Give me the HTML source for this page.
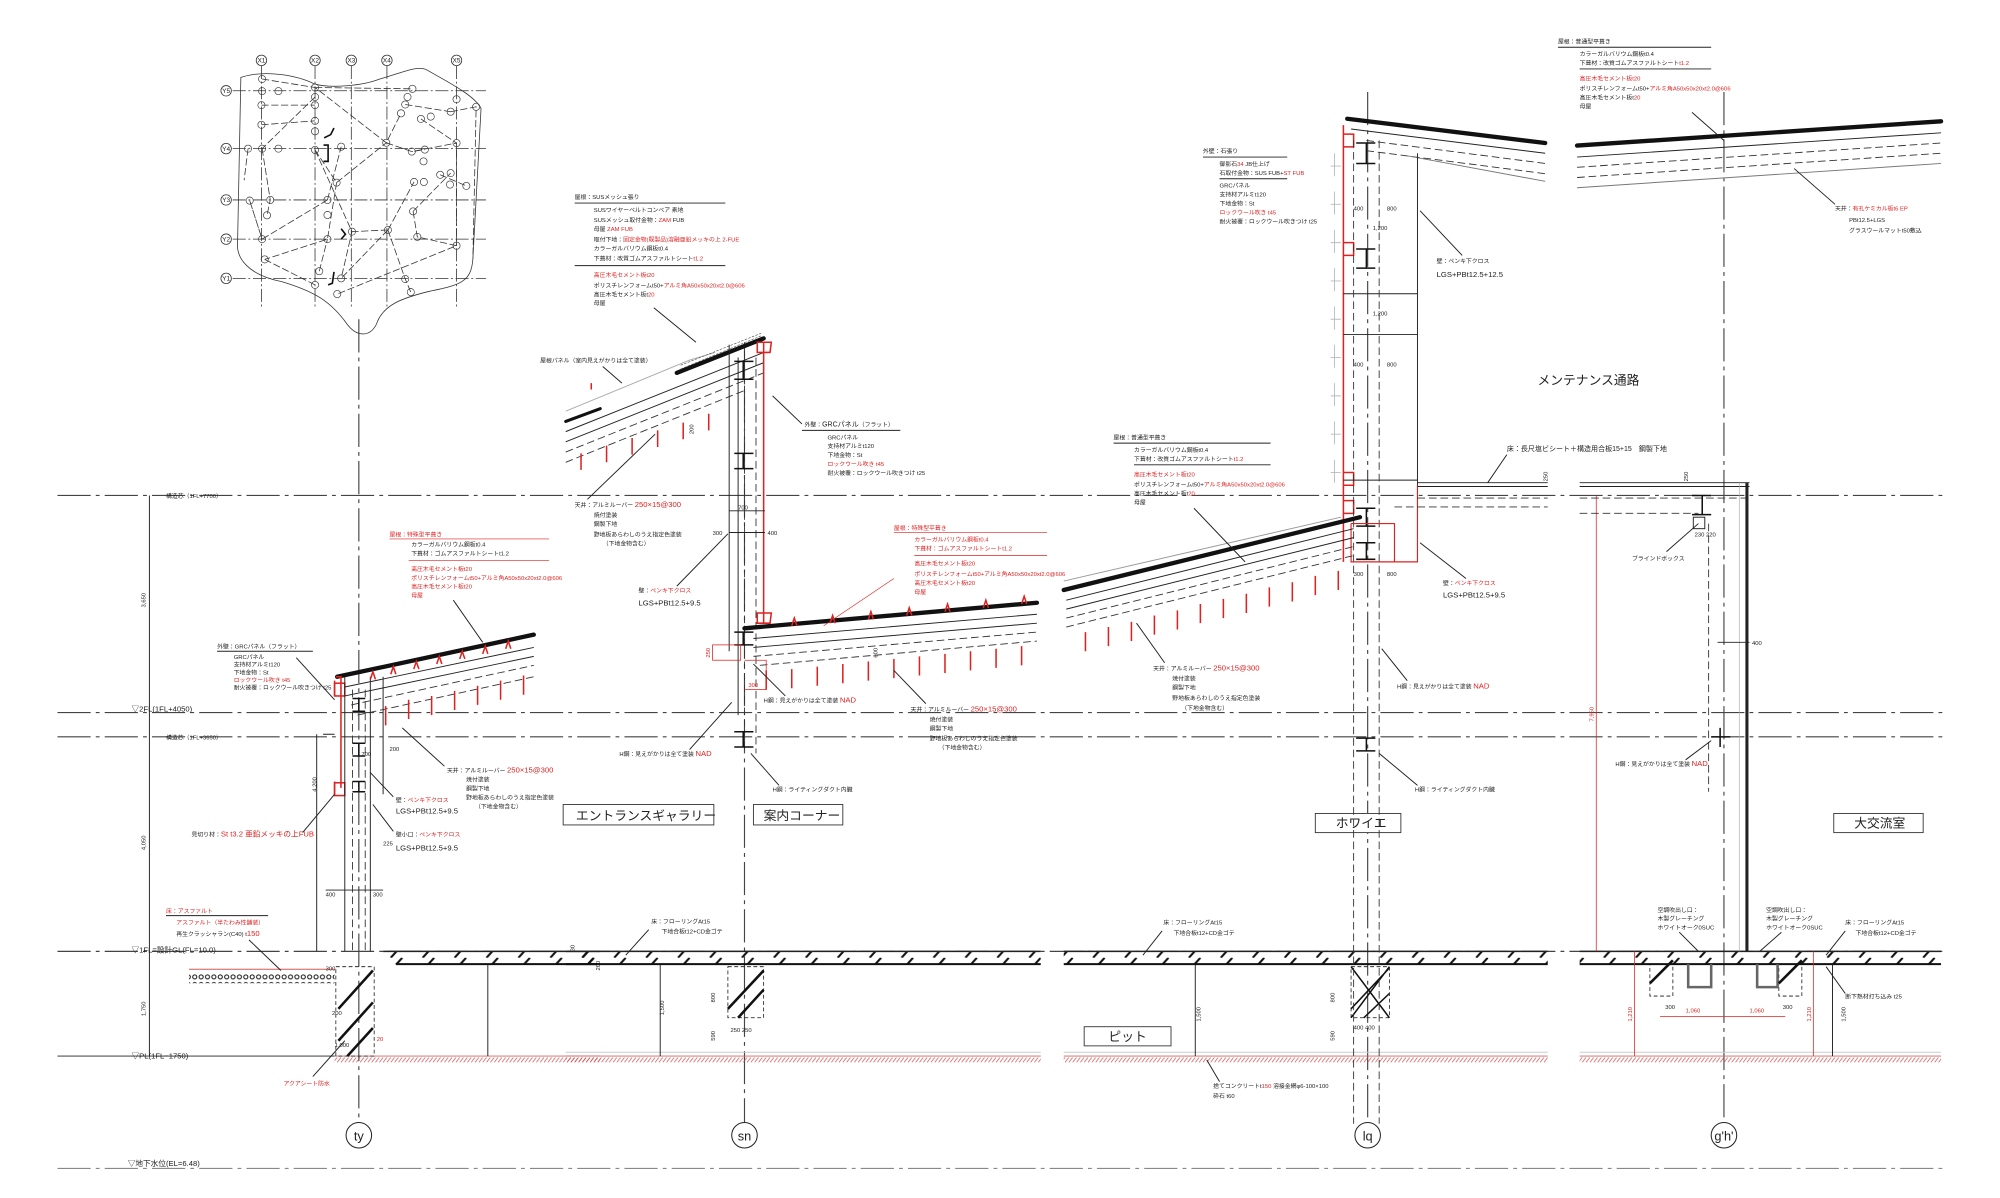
<!DOCTYPE html>
<html><head><meta charset="utf-8">
<style>
html,body{margin:0;padding:0;background:#fff;width:2000px;height:1198px;overflow:hidden}
svg{display:block}
text{font-family:"Liberation Sans","Noto Sans CJK JP",sans-serif;fill:#222}
.r{fill:#d22}
.ax{stroke:#444;stroke-width:.9;fill:none;stroke-dasharray:26 4 3 4}
.ln{stroke:#222;stroke-width:.75;fill:none}
.th{stroke:#111;stroke-width:3.4;fill:none;stroke-linecap:round}
.rd{stroke:#d22;stroke-width:1.2;fill:none}
.dsh{stroke:#333;stroke-width:.7;fill:none;stroke-dasharray:6 3}
.t{font-size:4.6px}
.m{font-size:6px}
</style></head><body>
<svg width="2000" height="1198" viewBox="0 0 2000 1198" xmlns="http://www.w3.org/2000/svg">
<defs>
<pattern id="hat" width="25" height="10" patternUnits="userSpaceOnUse">
<line x1="6" y1="10" x2="15" y2="0" stroke="#111" stroke-width="1.6"/>
</pattern>
<pattern id="rh" width="3" height="4" patternUnits="userSpaceOnUse">
<line x1="0" y1="4" x2="3" y2="0" stroke="#c44" stroke-width=".5"/>
</pattern>
<pattern id="grv" width="5" height="6" patternUnits="userSpaceOnUse">
<circle cx="2.5" cy="3" r="1.6" fill="none" stroke="#111" stroke-width=".8"/>
</pattern>
</defs>

<!-- Key plan (original coords) -->
<g transform="translate(200,30) scale(0.3268)" stroke="#333" fill="none" stroke-width="2.4">
<g stroke-dasharray="40 8 6 8">
<line x1="188" y1="110" x2="188" y2="850"/><line x1="352" y1="110" x2="352" y2="850"/><line x1="463" y1="110" x2="463" y2="850"/><line x1="572" y1="110" x2="572" y2="850"/><line x1="785" y1="110" x2="785" y2="850"/>
<line x1="100" y1="186" x2="875" y2="186"/><line x1="100" y1="363" x2="875" y2="363"/><line x1="100" y1="520" x2="875" y2="520"/><line x1="100" y1="640" x2="875" y2="640"/><line x1="100" y1="760" x2="875" y2="760"/>
</g>
<circle cx="188" cy="93" r="16"/><circle cx="352" cy="93" r="16"/><circle cx="463" cy="93" r="16"/><circle cx="572" cy="93" r="16"/><circle cx="785" cy="93" r="16"/>
<circle cx="80" cy="186" r="16"/><circle cx="80" cy="363" r="16"/><circle cx="80" cy="520" r="16"/><circle cx="80" cy="640" r="16"/><circle cx="80" cy="760" r="16"/>
<g stroke="none" fill="#222" font-size="20" text-anchor="middle" font-family="Liberation Sans,sans-serif">
<text x="188" y="100">X1</text><text x="352" y="100">X2</text><text x="463" y="100">X3</text><text x="572" y="100">X4</text><text x="785" y="100">X5</text>
<text x="80" y="193">Y5</text><text x="80" y="370">Y4</text><text x="80" y="527">Y3</text><text x="80" y="647">Y2</text><text x="80" y="767">Y1</text></g>
<path d="M125,145 C200,120 300,140 350,165 C400,180 500,170 550,150 C620,130 660,110 690,120 C760,160 840,200 860,240 L835,700 C830,770 800,780 700,800 C620,820 560,840 540,900 C520,940 480,940 450,900 C400,830 350,800 250,770 C150,750 110,700 115,650 L125,145 Z"/>
<g stroke-dasharray="22 8">
<path d="M190,150 L352,176 L570,345 L615,255 M352,176 L650,180 M352,205 L190,363 M188,230 L352,230 M188,290 L352,278 M147,363 L135,460 M190,363 L215,520 L205,567 M352,367 L418,467 L570,345 M352,367 L465,617 L432,760 M390,520 L190,640 L152,522 M390,520 L432,357 M418,467 L390,640 L198,702 M575,612 L465,617 M575,612 L655,465 M575,612 L628,762 L645,802 M575,612 L432,760 M652,555 L767,438 M652,555 L665,633 L785,660 L420,808 M785,660 L785,346 L648,372 M767,250 L845,235 L835,700 M676,272 L785,346 M198,702 L352,780 M365,738 L390,640 M628,228 L767,250 M570,345 L648,372 L688,366 M735,443 L815,477 M152,522 L190,640"/>
</g>
<g stroke-width="2">
<circle cx="190" cy="150" r="11"/><circle cx="190" cy="187" r="11"/><circle cx="240" cy="187" r="11"/><circle cx="352" cy="176" r="11"/><circle cx="352" cy="205" r="11"/><circle cx="188" cy="230" r="11"/><circle cx="352" cy="230" r="11"/><circle cx="188" cy="290" r="11"/><circle cx="352" cy="278" r="11"/><circle cx="352" cy="310" r="11"/><circle cx="147" cy="363" r="11"/><circle cx="190" cy="363" r="11"/><circle cx="240" cy="363" r="11"/><circle cx="352" cy="367" r="11"/><circle cx="432" cy="357" r="11"/><circle cx="570" cy="345" r="11"/><circle cx="648" cy="372" r="11"/><circle cx="688" cy="366" r="11"/><circle cx="684" cy="402" r="11"/><circle cx="785" cy="346" r="11"/><circle cx="650" cy="180" r="11"/><circle cx="635" cy="205" r="11"/><circle cx="628" cy="228" r="11"/><circle cx="615" cy="255" r="11"/><circle cx="676" cy="272" r="11"/><circle cx="706" cy="265" r="11"/><circle cx="767" cy="250" r="11"/><circle cx="785" cy="212" r="11"/><circle cx="845" cy="235" r="11"/><circle cx="418" cy="467" r="11"/><circle cx="390" cy="520" r="11"/><circle cx="215" cy="520" r="11"/><circle cx="152" cy="522" r="11"/><circle cx="205" cy="567" r="11"/><circle cx="390" cy="566" r="11"/><circle cx="655" cy="465" r="11"/><circle cx="685" cy="465" r="11"/><circle cx="735" cy="443" r="11"/><circle cx="767" cy="438" r="11"/><circle cx="765" cy="473" r="11"/><circle cx="815" cy="477" r="11"/><circle cx="652" cy="555" r="11"/><circle cx="190" cy="640" r="11"/><circle cx="390" cy="640" r="11"/><circle cx="465" cy="617" r="11"/><circle cx="575" cy="612" r="11"/><circle cx="665" cy="633" r="11"/><circle cx="785" cy="660" r="11"/><circle cx="198" cy="702" r="11"/><circle cx="365" cy="738" r="11"/><circle cx="352" cy="780" r="11"/><circle cx="432" cy="760" r="11"/><circle cx="420" cy="808" r="11"/><circle cx="628" cy="762" r="11"/><circle cx="645" cy="802" r="11"/>
</g>
<path d="M380,330 L400,320 L410,300 M378,352 L392,352 L392,402 L378,402 M432,608 L445,625 L432,640 M392,780 L405,775 L410,740" stroke="#111" stroke-width="5"/>
</g>

<!-- Main section -->
<g transform="scale(1.277)">
<line class="ax" x1="45" y1="388" x2="1522" y2="388"/>
<line class="ax" x1="45" y1="558" x2="1522" y2="558"/>
<line class="ax" x1="45" y1="577" x2="1522" y2="577"/>
<line class="ax" x1="45" y1="745" x2="1522" y2="745"/>
<line class="ln" x1="45" y1="827" x2="262" y2="827"/>
<line class="ax" x1="45" y1="915" x2="1522" y2="915" style="stroke:#888"/>
<text class="t" x="130" y="390">構造芯（1FL+7700）</text>
<text class="m" x="103" y="557">▽2FL(1FL+4050)</text>
<text class="t" x="130" y="579">構造芯（1FL+3650）</text>
<text class="m" x="103" y="746">▽1FL=設計GL(FL=10.0)</text>
<text class="m" x="103" y="829">▽PL(1FL−1750)</text>
<text class="m" x="100" y="913">▽地下水位(EL=6.48)</text>
<line class="ln" x1="117" y1="388" x2="117" y2="827"/>
<g class="t"><text transform="translate(114,470) rotate(-90)" text-anchor="middle">3,650</text><text transform="translate(114,660) rotate(-90)" text-anchor="middle">4,050</text><text transform="translate(114,790) rotate(-90)" text-anchor="middle">1,750</text></g>

<line class="ax" x1="281" y1="250" x2="281" y2="879"/>
<line class="ax" x1="583" y1="268" x2="583" y2="879"/>
<line class="ax" x1="1071" y1="72" x2="1071" y2="879"/>
<line class="ax" x1="1350" y1="72" x2="1350" y2="879"/>
<g fill="#fff" stroke="#222" stroke-width=".8"><circle cx="281" cy="889" r="10"/><circle cx="583" cy="889" r="10"/><circle cx="1071" cy="889" r="10"/><circle cx="1350" cy="889" r="10"/></g>
<g font-size="10" text-anchor="middle"><text x="281" y="893">ty</text><text x="583" y="893">sn</text><text x="1071" y="893">lq</text><text x="1350" y="893">g'h'</text></g>

<g>
<rect x="300" y="745" width="170" height="10" fill="url(#hat)"/><line class="ln" x1="300" y1="745" x2="470" y2="745" style="stroke-width:1.2"/><line x1="310" y1="755" x2="470" y2="755" stroke="#111" stroke-width="1.6"/>
<rect x="443" y="745" width="372" height="10" fill="url(#hat)"/><line class="ln" x1="443" y1="745" x2="815" y2="745" style="stroke-width:1.2"/><line x1="443" y1="755" x2="815" y2="755" stroke="#111" stroke-width="1.6"/>
<rect x="833" y="745" width="379" height="10" fill="url(#hat)"/><line class="ln" x1="833" y1="745" x2="1212" y2="745" style="stroke-width:1.2"/><line x1="833" y1="755" x2="1212" y2="755" stroke="#111" stroke-width="1.6"/>
<rect x="1237" y="745" width="283" height="10" fill="url(#hat)"/><line class="ln" x1="1237" y1="745" x2="1520" y2="745" style="stroke-width:1.2"/><line x1="1237" y1="755" x2="1520" y2="755" stroke="#111" stroke-width="1.6"/>
<rect x="262" y="828" width="208" height="4" fill="url(#rh)"/><rect x="443" y="828" width="372" height="4" fill="url(#rh)"/><rect x="833" y="828" width="379" height="4" fill="url(#rh)"/><rect x="1237" y="828" width="283" height="4" fill="url(#rh)"/>
<line class="ln" x1="262" y1="827" x2="470" y2="827" style="stroke:#c66"/><line class="ln" x1="443" y1="827" x2="815" y2="827" style="stroke:#c66"/><line class="ln" x1="833" y1="827" x2="1212" y2="827" style="stroke:#c66"/><line class="ln" x1="1237" y1="827" x2="1520" y2="827" style="stroke:#c66"/>
<line class="ln" x1="443" y1="824" x2="815" y2="824" style="stroke:#ccc"/><line class="ln" x1="833" y1="824" x2="1212" y2="824" style="stroke:#ccc"/><line class="ln" x1="1237" y1="824" x2="1520" y2="824" style="stroke:#ccc"/>
<rect x="148" y="762" width="114" height="8" fill="url(#grv)"/><line x1="148" y1="759" x2="262" y2="759" stroke="#d55" stroke-width=".8"/>
<line class="ln" x1="382" y1="755" x2="382" y2="827"/><line class="ln" x1="517" y1="755" x2="517" y2="827"/><line class="ln" x1="936" y1="755" x2="936" y2="827"/><line class="ln" x1="1435" y1="755" x2="1435" y2="827"/>
</g>
<g stroke="#111" fill="none">
<rect x="263" y="757" width="30" height="70" stroke-dasharray="3 2" stroke-width=".6"/>
<path d="M265,790 L292,760 M265,815 L292,785 M272,827 L292,805" stroke-width="2"/>
<rect x="570" y="757" width="28" height="40" stroke-dasharray="3 2" stroke-width=".6"/>
<path d="M570,790 L598,760 M578,797 L598,775" stroke-width="2"/>
<rect x="1058" y="757" width="30" height="40" stroke-dasharray="3 2" stroke-width=".6"/>
<path d="M1058,790 L1088,758 M1068,797 L1088,778 M1058,757 L1088,797 M1088,757 L1058,797" stroke-width="1.2"/>
<rect x="1292" y="755" width="18" height="25" stroke-dasharray="3 2" stroke-width=".6"/><rect x="1393" y="755" width="18" height="25" stroke-dasharray="3 2" stroke-width=".6"/>
<path d="M1322,755 L1322,773 L1340,773 L1340,755 M1376,755 L1376,773 L1392,773 L1392,755" stroke="#666" stroke-width="2"/>
<path d="M1292,770 L1310,752 M1393,770 L1411,752" stroke-width="2"/>
</g>
<g stroke="#d22" stroke-width=".6"><line x1="1250" y1="388" x2="1250" y2="745"/><line x1="1280" y1="745" x2="1280" y2="827"/><line x1="1420" y1="745" x2="1420" y2="827"/><line x1="1300" y1="796" x2="1398" y2="796"/></g>
<text class="t r" transform="translate(1248,565) rotate(-90)">7,950</text>
<text class="t r" x="1320" y="793">1,060</text><text class="t r" x="1370" y="793">1,060</text>
<text class="t r" transform="translate(1278,800) rotate(-90)">1,210</text><text class="t r" transform="translate(1418,800) rotate(-90)">1,210</text>

<g fill="#fff" stroke="#333" stroke-width=".7"><rect x="441" y="630" width="118" height="16"/><rect x="590" y="630" width="70" height="16"/><rect x="1030" y="637" width="67" height="15"/><rect x="1436" y="637" width="70" height="15"/><rect x="849" y="804" width="68" height="15"/></g>
<g font-size="10"><text x="451" y="642">エントランスギャラリー</text><text x="598" y="642">案内コーナー</text><text x="1046" y="648">ホワイエ</text><text x="1452" y="648">大交流室</text><text x="868" y="815">ピット</text><text x="1204" y="301">メンテナンス通路</text></g>

<!-- ty -->
<g>
<path class="th" d="M264,530 L418,497"/>
<path class="ln" d="M270,538 L418,507 M270,545 L418,514"/><path class="dsh" d="M275,552 L418,521 M280,560 L418,530"/>
<path class="rd" d="M263,530 L267,530 L267,617 M262,612 L262,622 M262,533 L262,545"/>
<rect x="262" y="535" width="8" height="10" class="rd"/><rect x="262" y="613" width="8" height="10" class="rd"/>
<path class="ln" d="M270,530 L270,745 M290,530 L290,745 M300,530 L300,622 M248,575 L248,745 M253,575 L262,575"/>
<path class="dsh" d="M276,540 L276,745 M286,540 L286,745"/>
<path d="M276,547 L286,547 M281,547 L281,557 M276,557 L286,557 M276,582 L286,582 M281,582 L281,592 M276,592 L286,592 M276,612 L286,612 M281,612 L281,620 M276,620 L286,620" stroke="#111" stroke-width="1.2"/>
<g class="rd"><path d="M302,568 V553 M320,563 V548 M338,560 V545 M356,556 V541 M374,552 V537 M392,548 V533 M410,544 V529 M324,524 l2,-6 2,6 M342,520 l2,-6 2,6 M360,516 l2,-6 2,6 M378,512 l2,-6 2,6 M396,508 l2,-6 2,6 M306,528 l2,-6 2,6 M290,532 l2,-6 2,6"/></g>
<text class="t" x="305" y="588">200</text><text class="t" x="283" y="592">700</text><text class="t" transform="translate(248,620) rotate(-90)">4,200</text>
<text class="t" x="300" y="662">225</text><text class="t" x="255" y="702">400</text><text class="t" x="292" y="702">300</text>
<line class="ln" x1="255" y1="697" x2="300" y2="697"/>
</g>
<g class="t">
<text class="r" x="305" y="420">屋根：特殊型平葺き</text><line x1="305" y1="422" x2="430" y2="422" stroke="#d22" stroke-width=".5"/>
<text x="322" y="428">カラーガルバリウム鋼板t0.4</text><text x="322" y="435">下葺材：ゴムアスファルトシートt1.2</text><line x1="320" y1="439" x2="430" y2="439" stroke="#d22" stroke-width=".5"/>
<text class="r" x="322" y="447">高圧木毛セメント板t20</text><text class="r" x="322" y="454">ポリスチレンフォームt50+アルミ角A50x50x20xt2.0@606</text><text class="r" x="322" y="461">高圧木毛セメント板t20</text><text class="r" x="322" y="468">母屋</text>
<line class="ln" x1="355" y1="470" x2="378" y2="503"/>
<text x="170" y="508">外壁：GRCパネル（フラット）</text><line class="ln" x1="170" y1="510" x2="245" y2="510"/>
<text x="183" y="516">GRCパネル</text><text x="183" y="522">支持材アルミt120</text><text x="183" y="528">下地金物：St</text><text class="r" x="183" y="534">ロックウール吹き t45</text><text x="183" y="540">耐火被覆：ロックウール吹きつけ t25</text>
<line class="ln" x1="232" y1="515" x2="262" y2="548"/>
<text x="350" y="605">天井：アルミルーバー <tspan class="r" font-size="6">250×15@300</tspan></text><text x="365" y="612">焼付塗装</text><text x="365" y="619">鋼製下地</text><text x="365" y="626">野地板あらわしのうえ指定色塗装</text><text x="372" y="633">（下地金物含む）</text>
<line class="ln" x1="348" y1="600" x2="315" y2="570"/>
<text x="310" y="628">壁：<tspan class="r">ペンキ下クロス</tspan></text><text x="310" y="637" font-size="6">LGS+PBt12.5+9.5</text>
<text x="310" y="655">壁小口：<tspan class="r">ペンキ下クロス</tspan></text><text x="310" y="666" font-size="6">LGS+PBt12.5+9.5</text>
<line class="ln" x1="308" y1="624" x2="290" y2="605"/><line class="ln" x1="308" y1="651" x2="292" y2="630"/>
<text x="150" y="655">見切り材：<tspan class="r" font-size="6">St t3.2 亜鉛メッキの上FUB</tspan></text><line class="ln" x1="237" y1="652" x2="262" y2="622"/>
<text class="r" x="130" y="715">床：アスファルト</text><line class="ln" x1="130" y1="717" x2="210" y2="717"/>
<text class="r" x="138" y="724">アスファルト（半たわみ性舗装）</text><text x="138" y="733">再生クラッシャラン(C40) t<tspan class="r" font-size="6">150</tspan></text>
<line class="ln" x1="195" y1="736" x2="220" y2="760"/>
<text class="r" x="222" y="850">アクアシート防水</text><line class="ln" x1="245" y1="843" x2="270" y2="815"/>
<text x="255" y="760">300</text><text x="260" y="795">200</text><text x="262" y="820">1,000</text><text class="r" x="295" y="815">20</text>
</g>

<!-- sn -->
<g>
<path class="th" d="M530,292 L598,265"/><path class="th" d="M443,330 L470,320" style="stroke-width:2.4"/>
<path class="ln" d="M443,322 L540,282 M540,282 L560,276" style="stroke:#aaa"/>
<path class="ln" d="M443,338 L598,276 M443,346 L598,284"/><path class="dsh" d="M443,354 L598,292 M443,362 L585,305"/>
<path d="M533,286 L596,261 M533,289 L596,263" stroke="#555" stroke-width=".5" stroke-dasharray="2 1"/>
<g class="rd"><path d="M455,368 V355 M475,362 V349 M495,356 V343 M515,350 V337 M535,344 V331 M555,337 V324 M463,305 V300"/></g>
<path class="ln" d="M571,270 L571,510 M578,280 L578,560"/><path class="dsh" d="M583,275 L583,590 M592,280 L592,590"/>
<path class="rd" d="M598,268 L598,488 M593,268 L604,268 L603,276 L593,276 Z M593,480 L604,480 L603,488 L593,488 Z"/>
<path d="M575,283 L590,283 M582,283 L582,297 M575,297 L590,297 M575,355 L590,355 M582,355 L582,367 M575,367 L590,367 M575,495 L590,495 M582,495 L582,505 M575,505 L590,505 M575,573 L590,573 M582,573 L582,585 M575,585 L590,585" stroke="#111" stroke-width="1.2"/>
<line class="ln" x1="571" y1="400" x2="599" y2="400"/><line class="ln" x1="571" y1="417" x2="599" y2="417"/>
<text class="t" x="578" y="399">700</text><text class="t" x="558" y="419">300</text><text class="t" x="601" y="419">400</text>
<path class="th" d="M583,492 L812,472"/>
<path class="ln" d="M590,500 L812,481 M590,507 L812,488"/><path class="dsh" d="M590,514 L812,495 M595,521 L812,502"/>
<g class="rd"><path d="M600,540 V525 M620,539 V524 M640,537 V522 M660,535 V520 M680,533 V518 M700,531 V516 M720,529 V514 M740,527 V512 M760,525 V510 M780,523 V508 M800,521 V506 M620,490 l2,-6 2,6 M650,488 l2,-6 2,6 M680,485 l2,-6 2,6 M710,482 l2,-6 2,6 M740,479 l2,-6 2,6 M770,476 l2,-6 2,6 M800,473 l2,-6 2,6"/></g>
<rect x="558" y="505" width="22" height="12" class="rd" style="stroke-width:.6"/><path class="rd" style="stroke-width:.6" d="M583,517 L600,517 L600,540 L583,540"/>
<text class="t r" x="586" y="538">300</text><text class="t r" transform="translate(556,515) rotate(-90)">250</text>
<text class="t" transform="translate(543,340) rotate(-90)">200</text><text class="t" transform="translate(687,515) rotate(-90)">600</text>
</g>
<g class="t">
<text x="450" y="156">屋根：SUSメッシュ張り</text><line class="ln" x1="450" y1="159" x2="568" y2="159"/>
<text x="465" y="166">SUSワイヤーベルトコンベア 素地</text><text x="465" y="174">SUSメッシュ取付金物：<tspan class="r">ZAM</tspan> FUB</text><text x="465" y="181">母屋 <tspan class="r">ZAM FUB</tspan></text><text x="465" y="189">取付下地：<tspan class="r">固定金物(既製品)溶融亜鉛メッキの上 2-FUE</tspan></text><text x="465" y="196">カラーガルバリウム鋼板t0.4</text><text x="465" y="204">下葺材：改質ゴムアスファルトシート<tspan class="r">t1.2</tspan></text>
<line class="ln" x1="450" y1="208" x2="568" y2="208"/>
<text class="r" x="465" y="217">高圧木毛セメント板t20</text><text x="465" y="225">ポリスチレンフォームt50+<tspan class="r">アルミ角A50x50x20xt2.0@606</tspan></text><text x="465" y="232">高圧木毛セメント板t<tspan class="r">20</tspan></text><text x="465" y="239">母屋</text>
<line class="ln" x1="512" y1="241" x2="545" y2="268"/>
<text x="423" y="284">屋根パネル（室内見えがかりは全て塗装）</text><line class="ln" x1="472" y1="287" x2="487" y2="300"/>
<text x="630" y="334">外壁：<tspan font-size="5.5">GRCパネル</tspan>（フラット）</text><line class="ln" x1="628" y1="337" x2="705" y2="337"/>
<text x="648" y="344">GRCパネル</text><text x="648" y="351">支持材アルミt120</text><text x="648" y="358">下地金物：St</text><text class="r" x="648" y="365">ロックウール吹き t45</text><text x="648" y="372">耐火被覆：ロックウール吹きつけ t25</text>
<line class="ln" x1="628" y1="332" x2="605" y2="310"/>
<text x="450" y="397">天井：アルミルーバー <tspan class="r" font-size="6">250×15@300</tspan></text><text x="465" y="405">焼付塗装</text><text x="465" y="412">鋼製下地</text><text x="465" y="420">野地板あらわしのうえ指定色塗装</text><text x="472" y="427">（下地金物含む）</text>
<line class="ln" x1="460" y1="391" x2="513" y2="340"/>
<text x="500" y="464">壁：<tspan class="r">ペンキ下クロス</tspan></text><text x="500" y="474" font-size="6">LGS+PBt12.5+9.5</text><line class="ln" x1="530" y1="459" x2="570" y2="418"/>
<text class="r" x="700" y="415">屋根：特殊型平葺き</text><line x1="700" y1="417" x2="820" y2="417" stroke="#d22" stroke-width=".5"/>
<text class="r" x="716" y="424">カラーガルバリウム鋼板t0.4</text><text class="r" x="716" y="431">下葺材：ゴムアスファルトシートt1.2</text><line x1="716" y1="435" x2="820" y2="435" stroke="#d22" stroke-width=".5"/>
<text class="r" x="716" y="443">高圧木毛セメント板t20</text><text class="r" x="716" y="451">ポリスチレンフォームt50+アルミ角A50x50x20xt2.0@606</text><text class="r" x="716" y="458">高圧木毛セメント板t20</text><text class="r" x="716" y="465">母屋</text>
<line x1="700" y1="453" x2="645" y2="490" stroke="#d22" stroke-width=".5"/>
<text x="598" y="550">H鋼：見えがかりは全て塗装 <tspan class="r" font-size="6">NAD</tspan></text><line class="ln" x1="615" y1="545" x2="590" y2="520"/>
<text x="485" y="592">H鋼：見えがかりは全て塗装 <tspan class="r" font-size="6">NAD</tspan></text><line class="ln" x1="540" y1="587" x2="573" y2="550"/>
<text x="605" y="620">H鋼：ライティングダクト内臓</text><line class="ln" x1="610" y1="615" x2="588" y2="590"/>
<text x="713" y="557">天井：アルミルーバー <tspan class="r" font-size="6">250×15@300</tspan></text><text x="728" y="565">焼付塗装</text><text x="728" y="572">鋼製下地</text><text x="728" y="580">野地板あらわしのうえ指定色塗装</text><text x="735" y="587">（下地金物含む）</text>
<line class="ln" x1="725" y1="551" x2="700" y2="525"/>
<text x="510" y="723">床：フローリングAt15</text><text x="518" y="731">下地合板t12+CD金ゴテ</text><line class="ln" x1="508" y1="728" x2="490" y2="748"/>
<text transform="translate(450,745) rotate(-90)">30</text><text transform="translate(470,760) rotate(-90)">200</text><text transform="translate(520,795) rotate(-90)">1,500</text><text transform="translate(560,785) rotate(-90)">800</text><text transform="translate(560,815) rotate(-90)">590</text><text x="572" y="808">250 250</text>
</g>

<!-- lq -->
<g>
<path class="th" d="M1055,93 L1210,112"/><path class="th" d="M1235,114 L1520,95"/>
<path class="ln" d="M1058,101 L1210,120 M1235,123 L1520,104"/><path class="dsh" d="M1070,110 L1210,128 M1070,118 L1210,136 M1235,131 L1520,112 M1235,139 L1520,120"/>
<path class="ln" d="M1102,122 L1210,142 M1235,147 L1520,128" style="stroke:#777"/>
<path class="rd" d="M1052,98 L1052,440 M1052,105 L1060,105 L1060,115 L1052,115 M1052,190 L1060,190 L1060,200 L1052,200 M1052,370 L1060,370 L1060,380 L1052,380 M1052,392 L1060,392 L1060,402 L1052,402"/>
<path class="ln" d="M1110,120 L1110,440 M1052,230 L1110,230 M1052,262 L1110,262 M1052,376 L1110,376" />
<path class="dsh" d="M1060,110 L1060,880 M1080,110 L1080,880"/>
<path d="M1062,112 L1077,112 M1070,112 L1070,128 M1062,128 L1077,128 M1062,195 L1077,195 M1070,195 L1070,210 M1062,210 L1077,210 M1062,398 L1077,398 M1070,398 L1070,412 M1062,412 L1077,412 M1062,425 L1077,425 M1070,425 L1070,438 M1062,438 L1077,438 M1062,578 L1077,578 M1070,578 L1070,588 M1062,588 L1077,588" stroke="#111" stroke-width="1.2"/>
<g stroke="#bbb" stroke-width=".7" fill="none"><path d="M1042,130 h8 M1042,160 h8 M1042,190 h8 M1042,220 h8 M1042,250 h8 M1042,280 h8 M1042,310 h8 M1042,340 h8 M1042,370 h8 M1045,120 v18 M1045,150 v18 M1045,180 v18 M1045,210 v18 M1045,240 v18 M1045,270 v18 M1045,300 v18 M1045,330 v18 M1045,360 v18"/></g>
<path class="rd" d="M1058,410 L1058,440 L1110,440 L1110,380 M1058,410 L1092,410 L1092,440" style="stroke-width:.9"/>
<text class="t" x="1060" y="165">400</text><text class="t" x="1086" y="165">800</text><text class="t" x="1075" y="180">1,200</text><text class="t" x="1075" y="247">1,200</text><text class="t" x="1060" y="287">400</text><text class="t" x="1086" y="287">800</text>
<text class="t" x="1060" y="451">300</text><text class="t" x="1086" y="451">800</text>
<path class="th" d="M833,462 L1065,405"/>
<path class="ln" d="M833,455 L1050,405" style="stroke:#999"/>
<path class="ln" d="M835,470 L1060,414 M835,477 L1060,421"/><path class="dsh" d="M835,484 L1060,428 M835,491 L1060,435"/>
<g class="rd"><path d="M850,510 V495 M868,506 V491 M886,502 V487 M904,497 V482 M922,493 V478 M940,488 V473 M958,484 V469 M976,480 V465 M994,475 V460 M1012,471 V456 M1030,466 V451 M1048,462 V447"/></g>
<path class="ln" d="M1110,378 L1212,378 M1237,378 L1370,378 M1110,381 L1212,381 M1237,381 L1370,381"/>
<path class="dsh" d="M1110,390 L1212,390 M1237,390 L1370,390 M1092,397 L1212,397 M1237,402 L1330,402"/>
<path d="M1368,378 L1368,745" stroke="#222" stroke-width="2.4"/><path d="M1362,378 L1362,745" stroke="#aaa" stroke-width=".5"/>
<path d="M1325,388 L1340,388 M1333,388 L1333,403 M1325,403 L1340,403 M1340,577 L1355,577 M1347,570 L1347,585" stroke="#111" stroke-width="1.2"/>
<rect x="1326" y="405" width="9" height="9" class="ln"/><text class="t" x="1327" y="420">230 220</text>
<line class="dsh" x1="1338" y1="410" x2="1338" y2="620"/>
<text class="t" x="1372" y="505">400</text><line class="ln" x1="1345" y1="503" x2="1370" y2="503"/>
<text class="t" transform="translate(1322,377) rotate(-90)">250</text><text class="t" transform="translate(1212,377) rotate(-90)">250</text>
</g>
<g class="t">
<text x="872" y="344">屋根：普通型平葺き</text><line class="ln" x1="872" y1="347" x2="995" y2="347"/>
<text x="888" y="354">カラーガルバリウム鋼板t0.4</text><text x="888" y="361">下葺材：改質ゴムアスファルトシート<tspan class="r">t1.2</tspan></text><line class="ln" x1="888" y1="364" x2="995" y2="364"/>
<text class="r" x="888" y="373">高圧木毛セメント板t20</text><text x="888" y="381">ポリスチレンフォームt50+<tspan class="r">アルミ角A50x50x20xt2.0@606</tspan></text><text x="888" y="388">高圧木毛セメント板t<tspan class="r">20</tspan></text><text x="888" y="395">母屋</text>
<line class="ln" x1="935" y1="398" x2="975" y2="440"/>
<text x="942" y="120">外壁：石張り</text><line class="ln" x1="942" y1="123" x2="1008" y2="123"/>
<text x="955" y="130">御影石<tspan class="r">34</tspan> JB仕上げ</text><text x="955" y="137">石取付金物：SUS FUB+<tspan class="r">ST FUB</tspan></text><line class="ln" x1="955" y1="140" x2="1008" y2="140"/>
<text x="955" y="147">GRCパネル</text><text x="955" y="154">支持材アルミt120</text><text x="955" y="161">下地金物：St</text><text class="r" x="955" y="168">ロックウール吹き t45</text><text x="955" y="175">耐火被覆：ロックウール吹きつけ t25</text>
<text x="1125" y="206">壁：ペンキ下クロス</text><text x="1125" y="217" font-size="6">LGS+PBt12.5+12.5</text><line class="ln" x1="1145" y1="200" x2="1112" y2="165"/>
<text x="1130" y="458">壁：<tspan class="r">ペンキ下クロス</tspan></text><text x="1130" y="468" font-size="6">LGS+PBt12.5+9.5</text><line class="ln" x1="1148" y1="453" x2="1112" y2="425"/>
<text x="903" y="525">天井：アルミルーバー <tspan class="r" font-size="6">250×15@300</tspan></text><text x="918" y="533">焼付塗装</text><text x="918" y="540">鋼製下地</text><text x="918" y="548">野地板あらわしのうえ指定色塗装</text><text x="925" y="556">（下地金物含む）</text>
<line class="ln" x1="912" y1="519" x2="890" y2="488"/>
<text x="1094" y="539">H鋼：見えがかりは全て塗装 <tspan class="r" font-size="6">NAD</tspan></text><line class="ln" x1="1102" y1="533" x2="1082" y2="508"/>
<text x="1108" y="620">H鋼：ライティングダクト内臓</text><line class="ln" x1="1110" y1="615" x2="1080" y2="590"/>
<text x="1180" y="353" font-size="5.5">床：長尺塩ビシート＋構造用合板15+15　鋼製下地</text><line class="ln" x1="1180" y1="356" x2="1165" y2="378"/>
<text x="1220" y="34">屋根：普通型平葺き</text><line class="ln" x1="1220" y1="37" x2="1340" y2="37"/>
<text x="1237" y="44">カラーガルバリウム鋼板t0.4</text><text x="1237" y="51">下葺材：改質ゴムアスファルトシート<tspan class="r">t1.2</tspan></text><line class="ln" x1="1237" y1="54" x2="1340" y2="54"/>
<text class="r" x="1237" y="63">高圧木毛セメント板t20</text><text x="1237" y="71">ポリスチレンフォームt50+<tspan class="r">アルミ角A50x50x20xt2.0@606</tspan></text><text x="1237" y="78">高圧木毛セメント板t<tspan class="r">20</tspan></text><text x="1237" y="85">母屋</text>
<line class="ln" x1="1325" y1="88" x2="1350" y2="110"/>
<text x="1437" y="165">天井：<tspan class="r">有孔ケミカル板t6 EP</tspan></text><text x="1448" y="174">PBt12.5+LGS</text><text x="1448" y="182">グラスウールマットt50敷込</text><line class="ln" x1="1437" y1="160" x2="1405" y2="132"/>
<text x="1278" y="439">ブラインドボックス</text><line class="ln" x1="1305" y1="432" x2="1330" y2="410"/>
<text x="1265" y="600">H鋼：見えがかりは全て塗装 <tspan class="r" font-size="6">NAD</tspan></text><line class="ln" x1="1320" y1="595" x2="1340" y2="580"/>
<text x="911" y="724">床：フローリングAt15</text><text x="919" y="732">下地合板t12+CD金ゴテ</text><line class="ln" x1="910" y1="729" x2="895" y2="748"/>
<text x="1445" y="724">床：フローリングAt15</text><text x="1453" y="732">下地合板t12+CD金ゴテ</text><line class="ln" x1="1445" y1="729" x2="1430" y2="748"/>
<text x="1298" y="714">空調吹出し口：</text><text x="1298" y="721">木製グレーチング</text><text x="1298" y="728">ホワイトオーク0SUC</text><line class="ln" x1="1315" y1="730" x2="1330" y2="745"/>
<text x="1383" y="714">空調吹出し口：</text><text x="1383" y="721">木製グレーチング</text><text x="1383" y="728">ホワイトオーク0SUC</text><line class="ln" x1="1395" y1="730" x2="1378" y2="745"/>
<text x="1445" y="782">断下熱材打ち込み t25</text><line class="ln" x1="1445" y1="778" x2="1430" y2="757"/>
<text x="950" y="852">捨てコンクリートt<tspan class="r">150</tspan> 溶接金網φ6-100×100</text><text x="950" y="860">砕石 t60</text><line class="ln" x1="955" y1="847" x2="945" y2="830"/>
<text transform="translate(940,800) rotate(-90)">1,500</text><text transform="translate(1445,800) rotate(-90)">1,500</text><text transform="translate(1045,785) rotate(-90)">800</text><text transform="translate(1045,815) rotate(-90)">590</text><text x="1060" y="806">400 400</text>
<text x="1304" y="790">300</text><text x="1396" y="790">300</text>
</g>
</g>
</svg>
</body></html>
